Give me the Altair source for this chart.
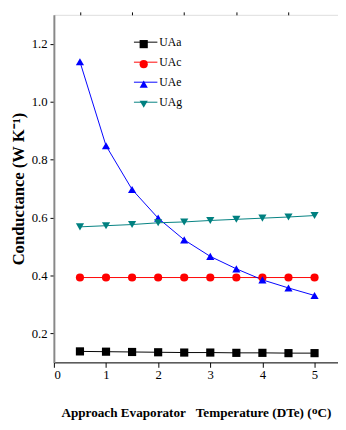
import altair as alt
import pandas as pd

x_vals = [0.5, 1.0, 1.5, 2.0, 2.5, 3.0, 3.5, 4.0, 4.5, 5.0]
uaa = [0.138, 0.137, 0.136, 0.135, 0.134, 0.134, 0.133, 0.133, 0.132, 0.132]
uac = [0.393, 0.393, 0.393, 0.393, 0.393, 0.393, 0.393, 0.393, 0.393, 0.393]
uae = [1.138, 0.848, 0.697, 0.598, 0.523, 0.466, 0.423, 0.385, 0.357, 0.331]
uag = [0.568, 0.572, 0.576, 0.582, 0.585, 0.590, 0.594, 0.598, 0.602, 0.607]

series_names = ["UAa", "UAc", "UAe", "UAg"]
series_colors = ["#000000", "#ff0000", "#0000ff", "#008080"]
series_shapes = ["square", "circle", "triangle-up", "triangle-down"]

x_major = [0, 1, 2, 3, 4, 5]
x_minor = [0.5, 1.5, 2.5, 3.5, 4.5]
y_major = [0.2, 0.4, 0.6, 0.8, 1.0, 1.2]
y_minor = [0.1, 0.3, 0.5, 0.7, 0.9, 1.1, 1.3]

rows = []
for name, vals in zip(series_names, [uaa, uac, uae, uag]):
    for xv, yv in zip(x_vals, vals):
        rows.append({"x": xv, "y": yv, "series": name, "series2": name})
df = pd.DataFrame(rows)

FONT = "Liberation Serif"
xscale = alt.Scale(domain=[0, 5.45], nice=False, zero=False)
yscale = alt.Scale(domain=[0.1, 1.3], nice=False, zero=False)

lines = alt.Chart(df).mark_line(strokeWidth=1).encode(
    x=alt.X("x:Q", scale=xscale,
            axis=alt.Axis(values=x_major, format="d", tickSize=5, grid=False,
                          domainColor="black", tickColor="black",
                          labelFont=FONT, labelFontSize=13, labelColor="black",
                          labelPadding=2,
                          title="Approach Evaporator\u00a0\u00a0\u00a0Temperature (DTe) (ᴼC)",
                          titleFont=FONT, titleFontSize=13.5, titleFontWeight="bold",
                          titleColor="black", titlePadding=24)),
    y=alt.Y("y:Q", scale=yscale,
            axis=alt.Axis(values=y_major, format=".1f", tickSize=4, grid=False,
                          domainColor="#888888", domainWidth=2, tickColor="black",
                          labelFont=FONT, labelFontSize=13, labelColor="black",
                          labelPadding=3,
                          title="Conductance (W K⁻¹)",
                          titleFont=FONT, titleFontSize=17, titleFontWeight="bold",
                          titleColor="black", titlePadding=4)),
    color=alt.Color("series:N",
                    scale=alt.Scale(domain=series_names, range=series_colors),
                    legend=alt.Legend(title=None, orient="none", legendX=88, legendY=22,
                                      symbolType="M-6,0H6", symbolSize=16,
                                      symbolStrokeWidth=1, labelOffset=8,
                                      labelFont=FONT, labelFontSize=12,
                                      labelColor="black", rowPadding=8.5)),
    detail="series:N",
)

shape_legend = alt.Legend(title=None, orient="none", legendX=86, legendY=24,
                          symbolSize=70, labelOffset=0, labelExpr="''",
                          labelFontSize=12, rowPadding=8.5)

points = alt.Chart(df).mark_point(filled=True, size=70, opacity=1).encode(
    x=alt.X("x:Q", scale=xscale,
            axis=alt.Axis(values=x_minor, tickSize=3, labels=False, domain=False,
                          grid=False, tickColor="black", title="")),
    y=alt.Y("y:Q", scale=yscale,
            axis=alt.Axis(values=y_minor, tickSize=3, labels=False, domain=False,
                          grid=False, tickColor="black", title="")),
    color=alt.Color("series2:N",
                    scale=alt.Scale(domain=series_names, range=series_colors),
                    legend=shape_legend),
    shape=alt.Shape("series2:N",
                    scale=alt.Scale(domain=series_names, range=series_shapes),
                    legend=shape_legend),
)

chart = alt.layer(lines, points).resolve_scale(
    color="independent", shape="independent"
).resolve_axis(
    x="independent", y="independent"
).resolve_legend(
    color="independent", shape="independent"
).properties(
    width=291, height=356,
    autosize=alt.AutoSizeParams(type="none"),
    padding={"left": 47, "top": 2, "right": 0, "bottom": 54},
).configure_view(stroke=None).configure(background="white")

chart.save("out.html", embed_options={"renderer": "svg", "actions": False})
